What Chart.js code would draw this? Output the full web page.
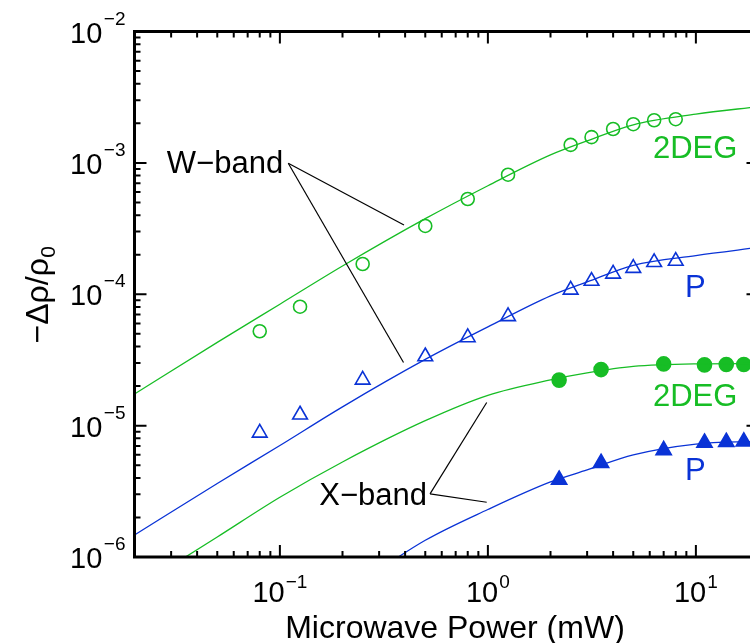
<!DOCTYPE html>
<html><head><meta charset="utf-8">
<script src="https://cdn.jsdelivr.net/npm/chart.js@4/dist/chart.umd.min.js"></script>
<style>
html,body{margin:0;padding:0;overflow:hidden;background:#fff;width:750px;height:643px}
#wrap{position:relative;width:780px;height:643px}
</style></head>
<body><div id="wrap"><canvas id="c" width="780" height="643"></canvas></div>
<script>
// ---- data ----
const powerOpen = [0.08, 0.125, 0.25, 0.5, 0.8, 1.25, 2.5, 3.15, 4, 5, 6.3, 8];
const wBand2DEG = [5.23e-5, 8.04e-5, 1.70e-4, 3.31e-4, 5.31e-4, 8.13e-4, 1.37e-3, 1.57e-3, 1.81e-3, 1.97e-3, 2.11e-3, 2.15e-3];
const wBandP    = [8.8e-6, 1.21e-5, 2.23e-5, 3.36e-5, 4.69e-5, 6.78e-5, 1.08e-4, 1.26e-4, 1.43e-4, 1.58e-4, 1.75e-4, 1.79e-4];
const powerFilled = [2.2, 3.5, 7, 11, 14, 17];
const xBand2DEG = [2.22e-5, 2.67e-5, 2.95e-5, 2.90e-5, 2.92e-5, 2.92e-5];
const xBandP    = [3.87e-6, 5.19e-6, 6.5e-6, 7.4e-6, 7.5e-6, 7.55e-6];
const powerFit  = [0.02, 0.05, 0.1, 0.2, 0.5, 1, 2, 3, 5, 10, 20];
const wFit2DEG  = [1.74e-5, 4.3e-5, 8.4e-5, 1.64e-4, 3.76e-4, 6.7e-4, 1.15e-3, 1.47e-3, 1.95e-3, 2.35e-3, 2.68e-3];
const wFitP     = [1.47e-6, 3.63e-6, 7.06e-6, 1.39e-5, 3.19e-5, 5.64e-5, 9.71e-5, 1.24e-4, 1.66e-4, 1.97e-4, 2.27e-4];
const xFit2DEG  = [5.7e-7, 1.42e-6, 2.85e-6, 5.29e-6, 1.09e-5, 1.70e-5, 2.23e-5, 2.52e-5, 2.82e-5, 2.95e-5, 2.97e-5];
const xFitP     = [5.2e-8, 1.3e-7, 2.6e-7, 5.2e-7, 1.34e-6, 2.30e-6, 3.73e-6, 4.60e-6, 5.99e-6, 7.24e-6, 7.6e-6];
const xTickExps = [-1, 0, 1];
const yTickExps = [-6, -5, -4, -3, -2];
const xRange = [0.02, 20];
const yRange = [1e-6, 1e-2];
// annotation leaders (data coordinates)
const wBandLeaders = [[[0.1097, 9.93e-4], [0.395, 3.37e-4]], [[0.1097, 9.93e-4], [0.393, 3.02e-5]]];
const xBandLeaders = [[[0.527, 3.02e-6], [0.987, 1.50e-5]], [[0.527, 3.02e-6], [0.987, 2.61e-6]]];
const textLabels = [
  {text: 'W\u2212band', at: [0.0286, 8.34e-4], color: '#000'},
  {text: 'X\u2212band', at: [0.1547, 2.49e-6], color: '#000'},
  {text: '2DEG', at: [6.22, 1.08e-3], color: 'green'},
  {text: 'P', at: [8.86, 9.54e-5], color: 'blue'},
  {text: '2DEG', at: [6.22, 1.40e-5], color: 'green'},
  {text: 'P', at: [8.86, 3.86e-6], color: 'blue'}
];

const GREEN = '#17bd25';
const BLUE = '#0a33d6';
const FONT = "'Liberation Sans', Arial, Helvetica, sans-serif";

const pts = (xs, ys) => xs.map((v, i) => ({x: v, y: ys[i]}));
const fitDs = (ys, col) => ({data: pts(powerFit, ys), showLine: true, borderColor: col, borderWidth: 1.3,
  pointRadius: 0, cubicInterpolationMode: 'monotone', fill: false});
const mkDs = (xs, ys, col, style, filled, r) => ({data: pts(xs, ys), showLine: false, pointStyle: style,
  pointRadius: r, pointHoverRadius: r, borderColor: col, backgroundColor: filled ? col : '#fff',
  pointBorderWidth: 1.6, borderWidth: 1.6});

const frame = {
  id: 'frame',
  afterDatasetsDraw(chart) {
    const {ctx, chartArea: a, scales: {x, y}} = chart;
    const P = (d) => [x.getPixelForValue(d[0]), y.getPixelForValue(d[1])];
    ctx.save();
    // leader lines
    ctx.strokeStyle = '#000'; ctx.lineWidth = 1.2;
    [...wBandLeaders, ...xBandLeaders].forEach(seg => {
      const p0 = P(seg[0]), p1 = P(seg[1]);
      ctx.beginPath(); ctx.moveTo(p0[0], p0[1]); ctx.lineTo(p1[0], p1[1]); ctx.stroke();
    });
    // text labels
    ctx.font = '31px ' + FONT; ctx.textAlign = 'left'; ctx.textBaseline = 'alphabetic';
    textLabels.forEach(t => {
      const p = P(t.at);
      ctx.fillStyle = t.color === 'green' ? GREEN : t.color === 'blue' ? BLUE : t.color;
      ctx.fillText(t.text, p[0], p[1]);
    });
    // frame
    ctx.strokeStyle = '#000'; ctx.lineWidth = 3;
    ctx.strokeRect(a.left, a.top, a.right - a.left, a.bottom - a.top);
    // ticks
    ctx.lineWidth = 2;
    for (let d = -2; d <= 2; d++) for (let m = 1; m <= 9; m++) {
      const v = m * Math.pow(10, d);
      if (v < xRange[0] * 0.999 || v > xRange[1] * 1.001) continue;
      const px = x.getPixelForValue(v), len = m === 1 ? 12 : 6;
      ctx.beginPath();
      ctx.moveTo(px, a.bottom); ctx.lineTo(px, a.bottom - len);
      ctx.moveTo(px, a.top); ctx.lineTo(px, a.top + len);
      ctx.stroke();
    }
    for (let d = -7; d <= -2; d++) for (let m = 1; m <= 9; m++) {
      const v = m * Math.pow(10, d);
      if (v < yRange[0] * 0.999 || v > yRange[1] * 1.001) continue;
      const py = y.getPixelForValue(v), len = m === 1 ? 12 : 6;
      ctx.beginPath();
      ctx.moveTo(a.left, py); ctx.lineTo(a.left + len, py);
      ctx.moveTo(a.right, py); ctx.lineTo(a.right - len, py);
      ctx.stroke();
    }
    // tick labels
    ctx.fillStyle = '#000';
    const baseF = '29px ' + FONT, expF = '19px ' + FONT;
    xTickExps.forEach(e => {
      const px = x.getPixelForValue(Math.pow(10, e));
      const es = (e < 0 ? '\u2212' : '') + Math.abs(e);
      ctx.font = baseF; const wb = ctx.measureText('10').width;
      ctx.font = expF; const we = ctx.measureText(es).width;
      const start = px - (wb + 1 + we) / 2;
      ctx.textAlign = 'left';
      ctx.font = baseF; ctx.fillText('10', start, a.bottom + 45);
      ctx.font = expF; ctx.fillText(es, start + wb + 1, a.bottom + 31);
    });
    yTickExps.forEach(e => {
      const py = y.getPixelForValue(Math.pow(10, e));
      const es = (e < 0 ? '\u2212' : '') + Math.abs(e);
      ctx.font = expF; const we = ctx.measureText(es).width;
      ctx.textAlign = 'right';
      const rx = a.left - 9;
      ctx.fillText(es, rx, py - 7);
      ctx.font = baseF; ctx.fillText('10', rx - we - 1.5, py + 11);
    });
    // axis titles
    ctx.font = '32px ' + FONT; ctx.textAlign = 'center';
    ctx.fillText('Microwave Power (mW)', 455, 638);
    ctx.save();
    ctx.translate(48, 295); ctx.rotate(-Math.PI / 2);
    ctx.font = '32px ' + FONT; const m1 = '\u2212\u0394\u03c1/\u03c1';
    const w1 = ctx.measureText(m1).width;
    ctx.font = '21px ' + FONT; const w2 = ctx.measureText('0').width;
    const s = -(w1 + w2) / 2;
    ctx.textAlign = 'left';
    ctx.font = '32px ' + FONT; ctx.fillText(m1, s, 0);
    ctx.font = '21px ' + FONT; ctx.fillText('0', s + w1 + 0.5, 7);
    ctx.restore();
    ctx.restore();
  }
};

new Chart(document.getElementById('c'), {
  type: 'scatter',
  data: {datasets: [
    fitDs(wFit2DEG, GREEN), fitDs(wFitP, BLUE), fitDs(xFit2DEG, GREEN), fitDs(xFitP, BLUE),
    mkDs(powerOpen, wBand2DEG, GREEN, 'circle', false, 6.5),
    mkDs(powerOpen, wBandP, BLUE, 'triangle', false, 8.5),
    mkDs(powerFilled, xBand2DEG, GREEN, 'circle', true, 7),
    mkDs(powerFilled, xBandP, BLUE, 'triangle', true, 8.8)
  ]},
  options: {
    responsive: false, animation: false, devicePixelRatio: 1,
    layout: {padding: {left: 134.5, top: 31.5, right: 21.5, bottom: 86}},
    plugins: {legend: {display: false}, tooltip: {enabled: false}},
    scales: {
      x: {type: 'logarithmic', min: xRange[0], max: xRange[1], display: false},
      y: {type: 'logarithmic', min: yRange[0], max: yRange[1], display: false}
    }
  },
  plugins: [frame]
});
</script></body></html>
